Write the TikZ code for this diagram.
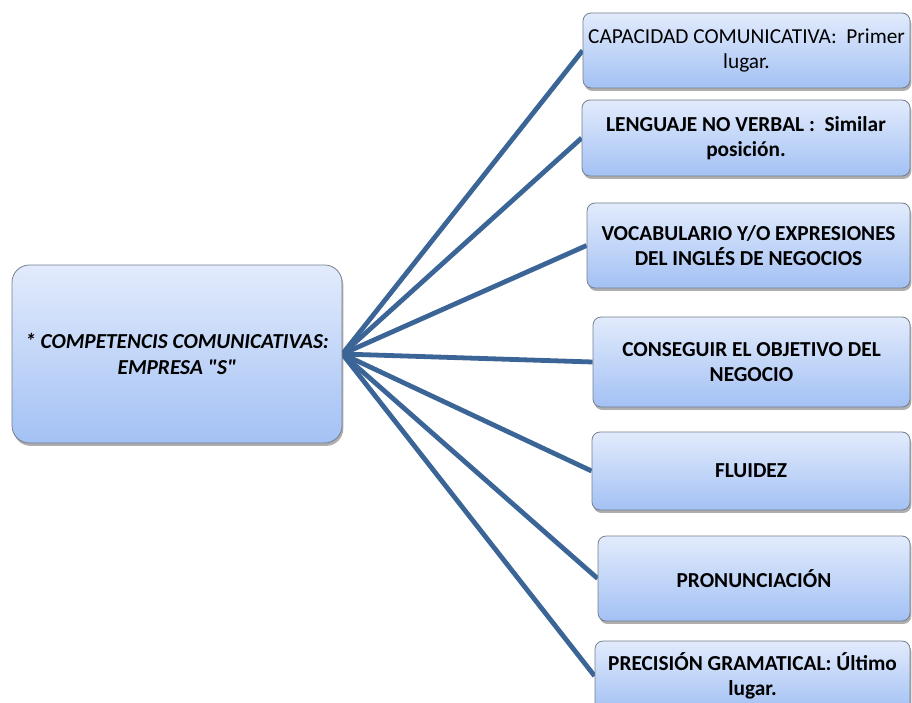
\documentclass[tikz,border=0pt]{standalone}
\usepackage{fontspec}
\setmainfont{Carlito}
\usepackage{tikz}
\usetikzlibrary{shadows, backgrounds}
\definecolor{BoxTop}{HTML}{E2EBFC}
\definecolor{BoxBottom}{HTML}{A3C1F4}
\definecolor{BoxEdge}{HTML}{767F8C}
\definecolor{LinkBlue}{HTML}{3C6597}
\newcommand{\px}{0.75pt}

\begin{document}
\begin{tikzpicture}[x=0.75pt, y=-0.75pt,
    card/.style={draw=BoxEdge, line width=0.6pt, rounded corners=6pt,
                 top color=BoxTop, bottom color=BoxBottom, align=center,
                 inner sep=2pt, font=\fontsize{16}{19}\selectfont\bfseries,
                 drop shadow={shadow xshift=1pt, shadow yshift=-2.2pt,
                              opacity=0.45, fill=black!70}},
    link/.style={draw=LinkBlue, line width=3.6pt}]
    \clip (0,0) rectangle (912,702);

    % Central topic
    \node[card, rounded corners=13pt, minimum width=330*\px, minimum height=178*\px,
          font=\fontsize{16}{19}\selectfont\bfseries\itshape] (core) at (177,354)
        {* COMPETENCIS COMUNICATIVAS:\\ EMPRESA \textquotedbl S\textquotedbl};

    % Ranked competences
    \node[card, minimum width=327*\px, minimum height=75*\px,
          font=\fontsize{16}{19}\selectfont] (cap) at (746.5,50.5)
        {CAPACIDAD COMUNICATIVA:~~Primer\\ lugar.};
    \node[card, minimum width=328*\px, minimum height=76*\px] (leng) at (746,138)
        {LENGUAJE NO VERBAL :~~Similar\\ posición.};
    \node[card, minimum width=323*\px, minimum height=85*\px] (voc) at (748.5,245.5)
        {VOCABULARIO Y/O EXPRESIONES\\ DEL INGLÉS DE NEGOCIOS};
    \node[card, minimum width=317*\px, minimum height=90*\px] (obj) at (751.5,362)
        {CONSEGUIR EL OBJETIVO DEL\\ NEGOCIO};
    \node[card, minimum width=318*\px, minimum height=78*\px] (flu) at (751,471)
        {FLUIDEZ};
    \node[card, minimum width=312*\px, minimum height=85*\px] (pron) at (754,578.5)
        {PRONUNCIACIÓN};
    \node[card, minimum width=315*\px, minimum height=70*\px] (prec) at (752.5,676)
        {PRECISIÓN GRAMATICAL: Último\\ lugar.};

    % Connectors fan out behind the boxes
    \begin{pgfonlayer}{background}
        \fill[white] (0,0) rectangle (912,702);
        \foreach \target in {cap, leng, voc, obj, flu, pron, prec}
            \draw[link] (core.east) -- (\target.west);
    \end{pgfonlayer}
\end{tikzpicture}
\end{document}
